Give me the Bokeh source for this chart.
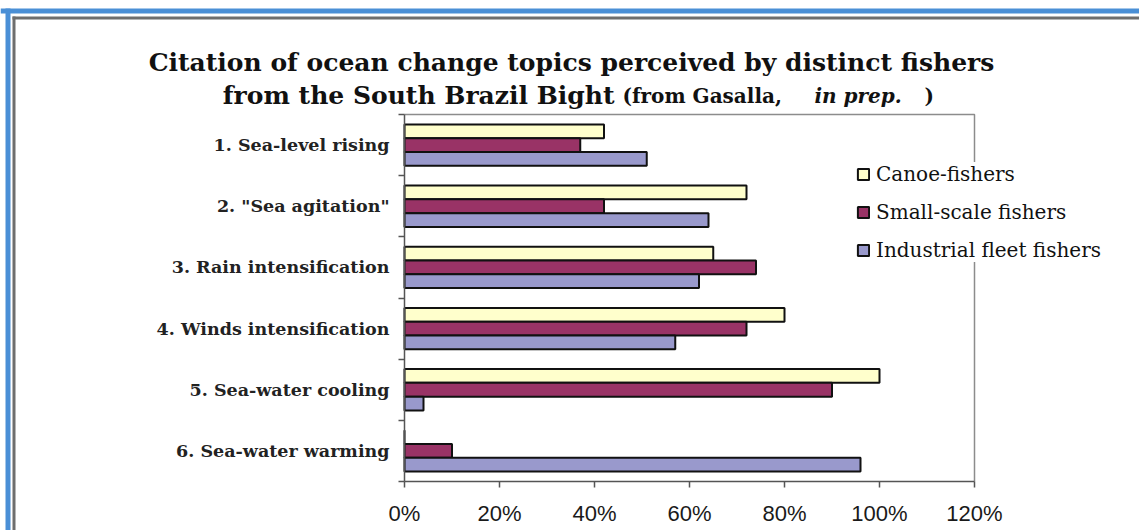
from bokeh.plotting import figure
from bokeh.models import (ColumnDataSource, Range1d, FixedTicker, LinearAxis,
                          NumeralTickFormatter, Label, BoxAnnotation)
from bokeh.embed import file_html
from bokeh.resources import INLINE
import numpy as np

# Topics cited by fishers (top to bottom)
topics = [
    '1. Sea-level rising',
    '2. "Sea agitation"',
    '3. Rain intensification',
    '4. Winds intensification',
    '5. Sea-water cooling',
    '6. Sea-water warming',
]

# Share of fishers citing each topic, per fisher group
canoe_fishers = [0.42, 0.72, 0.65, 0.80, 1.00, 0.00]
small_scale_fishers = [0.37, 0.42, 0.74, 0.72, 0.90, 0.10]
industrial_fleet_fishers = [0.51, 0.64, 0.62, 0.57, 0.04, 0.96]

series_names = ["Canoe-fishers", "Small-scale fishers", "Industrial fleet fishers"]
series_values = [canoe_fishers, small_scale_fishers, industrial_fleet_fishers]
series_colors = ["#FFFFCC", "#993366", "#9999CC"]

x_ticks = [0.0, 0.2, 0.4, 0.6, 0.8, 1.0, 1.2]
x_max = 1.2

n = len(topics)
centers = n - np.arange(n) - 0.5          # first topic at the top
bar_h = 0.225
offsets = [bar_h, 0.0, -bar_h]             # canoe above, industrial below

# Canvas size and the pixel box of the plotting area inside it.
W, H = 1139, 530
PX0, PX1, PY_TOP, PY_BOT = 404, 974, 114, 481

# The frame covers the whole canvas; ranges are chosen so that the data
# box [0, x_max] x [0, n] lands on the plotting-area pixels above.
kx = (PX1 - PX0) / x_max
ky = (PY_BOT - PY_TOP) / n
x_range = Range1d(-PX0 / kx, (W - PX0) / kx)
y_range = Range1d(-(H - PY_BOT) / ky, n + PY_TOP / ky)

p = figure(width=W, height=H, x_range=x_range, y_range=y_range,
           output_backend="svg", toolbar_location=None,
           min_border=0, min_border_left=0, min_border_right=0,
           min_border_top=0, min_border_bottom=0)
p.background_fill_color = "white"
p.border_fill_color = "white"
p.outline_line_color = None
p.xgrid.visible = False
p.ygrid.visible = False


def sx(px):
    return px


def sy(py):
    return H - py


# slide decoration: blue bands and the dark chart border
for (x0, x1, y0, y1, col) in [
    (0, W, 8, 13, "#4a8fd6"),
    (5, 10, 8, H, "#4a8fd6"),
    (12, W, 16, 19, "#6e6e6e"),
    (12, 15, 16, H, "#6e6e6e"),
]:
    p.add_layout(BoxAnnotation(left=sx(x0), right=sx(x1), top=sy(y0), bottom=sy(y1),
                               left_units="screen", right_units="screen",
                               top_units="screen", bottom_units="screen",
                               fill_color=col, fill_alpha=1.0, line_color=None,
                               level="underlay"))

# top and right edges of the plotting area
p.line(x=[0, x_max, x_max], y=[n, n, 0], line_color="#8c8c8c", line_width=1.5)

for name, vals, col, off in zip(series_names, series_values, series_colors, offsets):
    src = ColumnDataSource(dict(y=centers + off, right=vals))
    p.hbar(y="y", right="right", left=0, height=bar_h, source=src,
           fill_color=col, line_color="#111111", line_width=2,
           legend_label=name)

# x axis: percentages, pinned at y = 0
xa = p.xaxis[0]
xa.fixed_location = 0
xa.bounds = (0, x_max)
xa.ticker = FixedTicker(ticks=x_ticks)
xa.formatter = NumeralTickFormatter(format="0%")
xa.axis_line_color = "#555555"
xa.axis_line_width = 1.5
xa.major_tick_line_color = "#555555"
xa.major_tick_line_width = 1.5
xa.major_tick_in = 0
xa.major_tick_out = 6
xa.minor_tick_line_color = None
xa.major_label_standoff = 13
xa.major_label_text_font = "Liberation Sans"
xa.major_label_text_font_size = "22px"
xa.major_label_text_color = "#1a1a1a"

# y axis: line and ticks at the group boundaries, pinned at x = 0
ya = p.yaxis[0]
ya.fixed_location = 0
ya.bounds = (0, n)
ya.ticker = FixedTicker(ticks=list(range(n + 1)))
ya.major_label_overrides = {i: "" for i in range(n + 1)}
ya.axis_line_color = "#555555"
ya.axis_line_width = 1.5
ya.major_tick_line_color = "#555555"
ya.major_tick_line_width = 1.5
ya.major_tick_in = 0
ya.major_tick_out = 6
ya.minor_tick_line_color = None
ya.major_label_standoff = 0

# second left axis carrying the topic names at group centres
names_axis = LinearAxis(ticker=FixedTicker(ticks=list(centers)), fixed_location=0,
                        bounds=(0, n))
names_axis.major_label_overrides = {float(c): t for c, t in zip(centers, topics)}
names_axis.axis_line_color = None
names_axis.major_tick_line_color = None
names_axis.minor_tick_line_color = None
names_axis.major_label_standoff = 9
names_axis.major_label_text_font = "DejaVu Serif"
names_axis.major_label_text_font_style = "bold"
names_axis.major_label_text_font_size = "17.5px"
names_axis.major_label_text_color = "#222222"
p.add_layout(names_axis, "left")

# legend overlapping the right edge of the plotting area
lg = p.legend[0]
lg.location = (856, sy(262))
lg.background_fill_color = "white"
lg.background_fill_alpha = 1.0
lg.border_line_color = None
lg.label_text_font = "DejaVu Serif"
lg.label_text_font_size = "20px"
lg.label_text_color = "#111111"
lg.glyph_width = 14
lg.glyph_height = 14
lg.label_height = 24
lg.spacing = 14
lg.padding = 6
lg.margin = 0
lg.label_standoff = 6

# title, two lines with a smaller credit on the second line
title_font = "DejaVu Serif"
p.add_layout(Label(x=sx(571), y=sy(62), x_units="screen", y_units="screen",
                   text="Citation of ocean change topics perceived by distinct fishers",
                   text_align="center", text_baseline="alphabetic",
                   text_font=title_font, text_font_style="bold",
                   text_font_size="25px", text_color="#111111"))
p.add_layout(Label(x=sx(614), y=sy(95), x_units="screen", y_units="screen",
                   text="from the South Brazil Bight",
                   text_align="right", text_baseline="alphabetic",
                   text_font=title_font, text_font_style="bold",
                   text_font_size="25px", text_color="#111111"))
for txt, px, style in [("(from Gasalla,", 622, "bold"),
                       ("in prep.", 814, "bold italic"),
                       (")", 924, "bold")]:
    p.add_layout(Label(x=sx(px), y=sy(95), x_units="screen", y_units="screen",
                       text=txt, text_align="left", text_baseline="alphabetic",
                       text_font=title_font, text_font_style=style,
                       text_font_size="20px", text_color="#111111"))

open("out.html", "w").write(file_html(p, INLINE))
